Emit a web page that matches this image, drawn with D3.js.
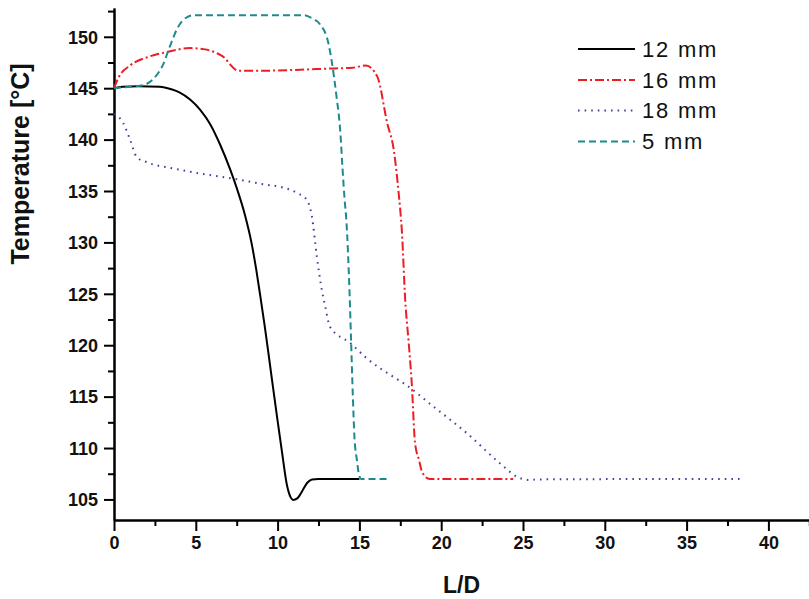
<!DOCTYPE html>
<html>
<head>
<meta charset="utf-8">
<script src="https://cdn.jsdelivr.net/npm/d3@7"></script>
<style>
  html, body { margin: 0; padding: 0; background: #fff; }
  svg { display: block; }
  text { font-family: "Liberation Sans", Arial, sans-serif; }
</style>
</head>
<body>
<svg id="chart" width="809" height="599"></svg>
<script>
// ---- data ----
const seriesNames = ["12 mm", "16 mm", "18 mm", "5 mm"];

const ld12 = [0, 0.5, 1.5, 2.8, 3.5, 4.0, 4.65, 5.27, 5.88, 6.49, 7.1, 7.5, 8.0, 8.4, 8.7, 8.95, 9.2, 9.4, 9.66, 9.96, 10.27, 10.57, 10.8, 10.95, 11.2, 11.5, 11.8, 12.1, 12.5, 15.0];
const t12  = [145.0, 145.15, 145.2, 145.15, 144.9, 144.6, 143.9, 142.9, 141.5, 139.5, 137.1, 135.3, 132.7, 130.0, 127.3, 124.7, 122.0, 119.7, 116.6, 113.1, 109.6, 106.4, 105.2, 104.95, 105.1, 105.8, 106.6, 106.95, 107.0, 107.0];

const ld16 = [0, 0.3, 0.98, 2.2, 3.2, 4.65, 5.47, 6.29, 6.8, 7.1, 7.6, 9.0, 11.4, 13.0, 14.6, 15.4, 16.1, 16.7, 17.1, 17.4, 17.6, 17.8, 18.0, 18.2, 18.4, 18.65, 18.85, 19.3, 24.4];
const t16  = [145.0, 146.1, 147.2, 148.1, 148.5, 148.9, 148.8, 148.4, 147.9, 147.3, 146.7, 146.7, 146.8, 146.9, 147.0, 147.2, 146.1, 141.6, 139.0, 134.8, 131.0, 124.4, 120.5, 116.3, 110.5, 108.8, 107.6, 107.0, 107.0];

const ld18 = [0, 0.57, 0.98, 1.39, 2.0, 3.6, 5.27, 7.3, 9.35, 10.17, 11.2, 11.8, 12.1, 12.4, 12.7, 12.92, 13.2, 14.45, 15.47, 17.2, 17.7, 19.55, 21.6, 23.6, 24.65, 25.3, 26.0, 38.3];
const t18  = [142.5, 141.6, 140.0, 138.3, 137.8, 137.2, 136.7, 136.2, 135.6, 135.4, 134.8, 134.1, 132.5, 128.6, 125.4, 123.7, 121.8, 120.2, 118.7, 116.8, 116.3, 114.0, 111.4, 108.5, 107.2, 106.9, 106.95, 107.0];

const ld5 = [0, 1.0, 1.8, 2.4, 3.0, 3.4, 3.9, 4.45, 4.9, 8.0, 11.6, 12.1, 12.6, 13.1, 13.3, 13.6, 13.84, 13.96, 14.1, 14.2, 14.4, 14.5, 14.6, 14.7, 14.85, 14.95, 15.1, 16.7];
const t5  = [145.0, 145.15, 145.3, 145.9, 147.3, 149.0, 150.9, 151.9, 152.1, 152.1, 152.1, 151.8, 151.2, 149.4, 147.7, 144.2, 140.6, 137.4, 134.1, 132.2, 125.0, 120.0, 115.0, 111.0, 108.8, 107.6, 107.0, 107.0];

const xMajorTicks = [0, 5, 10, 15, 20, 25, 30, 35, 40];
const xMinorTicks = [2.5, 7.5, 12.5, 17.5, 22.5, 27.5, 32.5, 37.5, 42.5];
const yMajorTicks = [105, 110, 115, 120, 125, 130, 135, 140, 145, 150];
const yMinorTicks = [107.5, 112.5, 117.5, 122.5, 127.5, 132.5, 137.5, 142.5, 147.5, 152.5];

const xTitle = "L/D";
const yTitle = "Temperature [°C]";

// ---- styles ----
const styles = [
  { color: "#000000", dash: null,       width: 2 },
  { color: "#ee1c24", dash: "9,3,2,3",  width: 2 },
  { color: "#4f3d9c", dash: "1.6,5",    width: 2 },
  { color: "#1e8a8e", dash: "7,4",      width: 2 }
];

const series = [
  { name: seriesNames[0], xs: ld12, ys: t12 },
  { name: seriesNames[1], xs: ld16, ys: t16 },
  { name: seriesNames[2], xs: ld18, ys: t18 },
  { name: seriesNames[3], xs: ld5,  ys: t5 }
];

const svg = d3.select("#chart");

const x = d3.scaleLinear().domain([0, 42.5]).range([114, 809.3]);
const y = d3.scaleLinear().domain([103, 152.8]).range([520, 8]);

// axes
const axisX = svg.append("g").attr("transform", `translate(0,${y(103)})`)
  .call(d3.axisBottom(x).tickValues(xMajorTicks).tickSize(11).tickSizeOuter(0).tickFormat(d3.format("d")));
const axisXMinor = svg.append("g").attr("transform", `translate(0,${y(103)})`)
  .call(d3.axisBottom(x).tickValues(xMinorTicks).tickSize(6).tickSizeOuter(0).tickFormat(""));
const axisY = svg.append("g").attr("transform", `translate(${x(0)},0)`)
  .call(d3.axisLeft(y).tickValues(yMajorTicks).tickSize(10).tickSizeOuter(0).tickFormat(d3.format("d")));
const axisYMinor = svg.append("g").attr("transform", `translate(${x(0)},0)`)
  .call(d3.axisLeft(y).tickValues(yMinorTicks).tickSize(6).tickSizeOuter(0).tickFormat(""));

[axisX, axisXMinor, axisY, axisYMinor].forEach(g => {
  g.select(".domain").attr("stroke", "#000").attr("stroke-width", 2);
  g.selectAll(".tick line").attr("stroke", "#000").attr("stroke-width", 2);
  g.selectAll(".tick text")
    .attr("fill", "#111")
    .style("font-family", "'Liberation Sans', Arial, sans-serif")
    .style("font-weight", "bold")
    .style("font-size", "18px");
});
axisX.selectAll(".tick text").attr("y", 16).attr("dy", "0.71em");
axisY.selectAll(".tick text").attr("x", -16).attr("dy", "0.35em");

// titles
svg.append("text")
  .attr("x", (x(0) + 809) / 2).attr("y", 593)
  .attr("text-anchor", "middle")
  .style("font-weight", "bold").style("font-size", "23px")
  .attr("fill", "#111")
  .text(xTitle);

svg.append("text")
  .attr("transform", "translate(29,164) rotate(-90)")
  .attr("text-anchor", "middle")
  .style("font-weight", "bold").style("font-size", "25px")
  .attr("fill", "#111")
  .text(yTitle);

// lines
const line = d3.line()
  .x(d => x(d[0]))
  .y(d => y(d[1]))
  .curve(d3.curveMonotoneX);

series.forEach((s, i) => {
  const pts = s.xs.map((v, k) => [v, s.ys[k]]);
  svg.append("path")
    .datum(pts)
    .attr("fill", "none")
    .attr("stroke", styles[i].color)
    .attr("stroke-width", styles[i].width)
    .attr("stroke-dasharray", styles[i].dash)
    .attr("stroke-linejoin", "round")
    .attr("d", line);
});

// legend
const legend = svg.append("g");
const legendY = [49, 80, 110.5, 141.5];
series.forEach((s, i) => {
  legend.append("line")
    .attr("x1", 578).attr("x2", 635)
    .attr("y1", legendY[i]).attr("y2", legendY[i])
    .attr("stroke", styles[i].color)
    .attr("stroke-width", styles[i].width)
    .attr("stroke-dasharray", styles[i].dash);
  legend.append("text")
    .attr("x", 642).attr("y", legendY[i])
    .attr("dy", "0.36em")
    .style("font-size", "22px")
    .style("letter-spacing", "1.8px")
    .attr("fill", "#111")
    .text(s.name);
});
</script>
</body>
</html>
